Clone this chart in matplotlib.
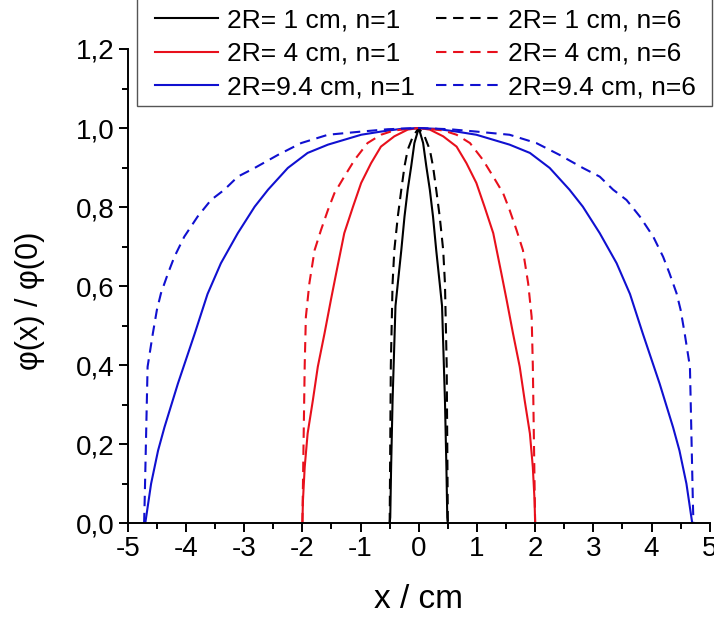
import matplotlib
matplotlib.use("Agg")
import matplotlib.pyplot as plt
from matplotlib.patches import Rectangle
from matplotlib.ticker import MultipleLocator, FuncFormatter

plt.rcParams["font.family"] = ["Liberation Sans", "DejaVu Sans"]

# values (x in cm, phi(x)/phi(0))
x_blue_n1 = [-4.70, -4.685, -4.60, -4.48, -4.37, -4.14, -3.85, -3.63, -3.40, -3.11, -2.82, -2.59,
             -2.25, -1.91, -1.56, -0.99, -0.65, -0.30, 0.0,
             0.30, 0.65, 0.99, 1.56, 1.91, 2.25, 2.59, 2.82, 3.11, 3.40, 3.63, 3.85,
             4.14, 4.37, 4.48, 4.60, 4.685, 4.70]
y_blue_n1 = [0.0, 0.015, 0.10, 0.184, 0.243, 0.353, 0.48, 0.58, 0.658, 0.734, 0.801, 0.844,
             0.899, 0.937, 0.958, 0.983, 0.991, 0.998, 1.0,
             0.998, 0.991, 0.983, 0.958, 0.937, 0.899, 0.844, 0.801, 0.734, 0.658, 0.58, 0.48,
             0.353, 0.243, 0.184, 0.10, 0.015, 0.0]

x_blue_n6 = [-4.72, -4.71, -4.685, -4.66, -4.57, -4.50, -4.43, -4.31, -4.20, -4.03, -3.80, -3.57,
             -3.34, -3.11, -2.82, -2.42, -2.02, -1.56, -0.99, -0.53, 0.0,
             0.53, 0.99, 1.56, 2.02, 2.42, 2.82, 3.11, 3.34, 3.57, 3.80, 4.03, 4.20,
             4.31, 4.43, 4.50, 4.57, 4.66, 4.685, 4.71, 4.72]
y_blue_n6 = [0.0, 0.058, 0.227, 0.396, 0.48, 0.54, 0.582, 0.632, 0.674, 0.725, 0.776, 0.818,
             0.844, 0.877, 0.899, 0.932, 0.962, 0.983, 0.991, 0.997, 1.0,
             0.997, 0.991, 0.983, 0.962, 0.932, 0.899, 0.877, 0.844, 0.818, 0.776, 0.725, 0.674,
             0.632, 0.582, 0.54, 0.48, 0.396, 0.227, 0.058, 0.0]

x_red_n1 = [-2.00, -1.99, -1.96, -1.91, -1.82, -1.735, -1.62, -1.51, -1.42, -1.28, -1.13, -0.99,
            -0.82, -0.65, -0.42, -0.19, 0.0,
            0.19, 0.42, 0.65, 0.82, 0.99, 1.13, 1.28, 1.42, 1.51, 1.62, 1.735, 1.82,
            1.91, 1.96, 1.99, 2.00]
y_red_n1 = [0.0, 0.058, 0.142, 0.227, 0.311, 0.396, 0.48, 0.565, 0.632, 0.734, 0.801, 0.861,
            0.911, 0.953, 0.979, 0.996, 1.0,
            0.996, 0.979, 0.953, 0.911, 0.861, 0.801, 0.734, 0.632, 0.565, 0.48, 0.396, 0.311,
            0.227, 0.142, 0.058, 0.0]

x_red_n6 = [-2.00, -1.98, -1.96, -1.94, -1.88, -1.79, -1.68, -1.56, -1.45, -1.28, -1.10, -0.88,
            -0.65, -0.42, 0.0,
            0.42, 0.65, 0.88, 1.10, 1.28, 1.45, 1.56, 1.68, 1.79, 1.88, 1.94, 1.96, 1.98, 2.00]
y_red_n6 = [0.0, 0.20, 0.40, 0.522, 0.607, 0.691, 0.742, 0.793, 0.835, 0.877, 0.920, 0.962,
            0.983, 0.994, 1.0,
            0.994, 0.983, 0.962, 0.920, 0.877, 0.835, 0.793, 0.742, 0.691, 0.607, 0.522, 0.40,
            0.20, 0.0]

x_black_n1 = [-0.50, -0.49, -0.475, -0.45, -0.40, -0.36, -0.30, -0.245, -0.19, -0.13, -0.075, 0.0,
              0.075, 0.13, 0.19, 0.245, 0.30, 0.36, 0.40, 0.45, 0.475, 0.49, 0.50]
y_black_n1 = [0.0, 0.015, 0.142, 0.311, 0.55, 0.607, 0.691, 0.776, 0.844, 0.903, 0.962, 1.0,
              0.962, 0.903, 0.844, 0.776, 0.691, 0.607, 0.55, 0.311, 0.142, 0.015, 0.0]

x_black_n6 = [-0.50, -0.49, -0.48, -0.45, -0.42, -0.36, -0.30, -0.245, -0.19, -0.10, 0.0,
              0.10, 0.19, 0.245, 0.30, 0.36, 0.42, 0.45, 0.48, 0.49, 0.50]
y_black_n6 = [0.0, 0.20, 0.40, 0.607, 0.691, 0.776, 0.844, 0.903, 0.945, 0.979, 1.0,
              0.979, 0.945, 0.903, 0.844, 0.776, 0.691, 0.607, 0.40, 0.20, 0.0]

labels_n1 = ["2R= 1 cm, n=1", "2R= 4 cm, n=1", "2R=9.4 cm, n=1"]
labels_n6 = ["2R= 1 cm, n=6", "2R= 4 cm, n=6", "2R=9.4 cm, n=6"]

BLUE = "#1010d0"
RED = "#e8101c"
BLACK = "#000000"
DASH = (0, (5.0, 3.2))

W, H = 714, 620
fig = plt.figure(figsize=(W / 100, H / 100), dpi=100)
ax = fig.add_axes([0.179, 0.156, 0.815, 0.765])

lw = 1.5
h1 = ax.plot(x_black_n1, y_black_n1, color=BLACK, lw=lw, label=labels_n1[0])[0]
h2 = ax.plot(x_red_n1, y_red_n1, color=RED, lw=lw, label=labels_n1[1])[0]
h3 = ax.plot(x_blue_n1, y_blue_n1, color=BLUE, lw=lw, label=labels_n1[2])[0]
h4 = ax.plot(x_black_n6, y_black_n6, color=BLACK, lw=lw, ls=DASH, label=labels_n6[0])[0]
h5 = ax.plot(x_red_n6, y_red_n6, color=RED, lw=lw, ls=DASH, label=labels_n6[1])[0]
h6 = ax.plot(x_blue_n6, y_blue_n6, color=BLUE, lw=lw, ls=DASH, label=labels_n6[2])[0]

ax.set_xlim(-5, 5)
ax.set_ylim(0, 1.2)
ax.xaxis.set_major_locator(MultipleLocator(1))
ax.xaxis.set_minor_locator(MultipleLocator(0.5))
ax.yaxis.set_major_locator(MultipleLocator(0.2))
ax.yaxis.set_minor_locator(MultipleLocator(0.1))
ax.xaxis.set_major_formatter(FuncFormatter(lambda v, p: f"{v:.0f}"))
ax.yaxis.set_major_formatter(FuncFormatter(lambda v, p: f"{v:.1f}".replace(".", ",")))

for side in ("top", "right"):
    ax.spines[side].set_visible(False)
for side in ("left", "bottom"):
    ax.spines[side].set_linewidth(1.4)
ax.tick_params(which="major", direction="out", length=6.5, width=1.4, labelsize=20, pad=3)
ax.tick_params(which="minor", direction="out", length=4, width=1.4)

ax.set_xlabel("x / cm", fontsize=24)
ax.set_ylabel("φ(x) / φ(0)", fontsize=22)
ax.xaxis.set_label_coords(0.5, -0.128)
ax.yaxis.set_label_coords(-0.143, 0.47)

# legend box: runs off the top and right of the figure, as in the reference
box = Rectangle((137 / W, (H - 106) / H), (712 - 137) / W, 0.3, transform=fig.transFigure,
                facecolor="white", edgecolor="#555555", linewidth=1.0, zorder=5)
fig.patches.append(box)

leg = fig.legend(handles=[h1, h2, h3, h4, h5, h6], ncol=2, loc="lower left",
                 bbox_to_anchor=(155 / W, (H - 99) / H), fontsize=19,
                 frameon=False, handlelength=2.39, handletextpad=0.34,
                 columnspacing=0.8, labelspacing=0.35, borderpad=0.0,
                 borderaxespad=0.0)
leg.set_zorder(6)

fig.savefig("out.png", dpi=100)
